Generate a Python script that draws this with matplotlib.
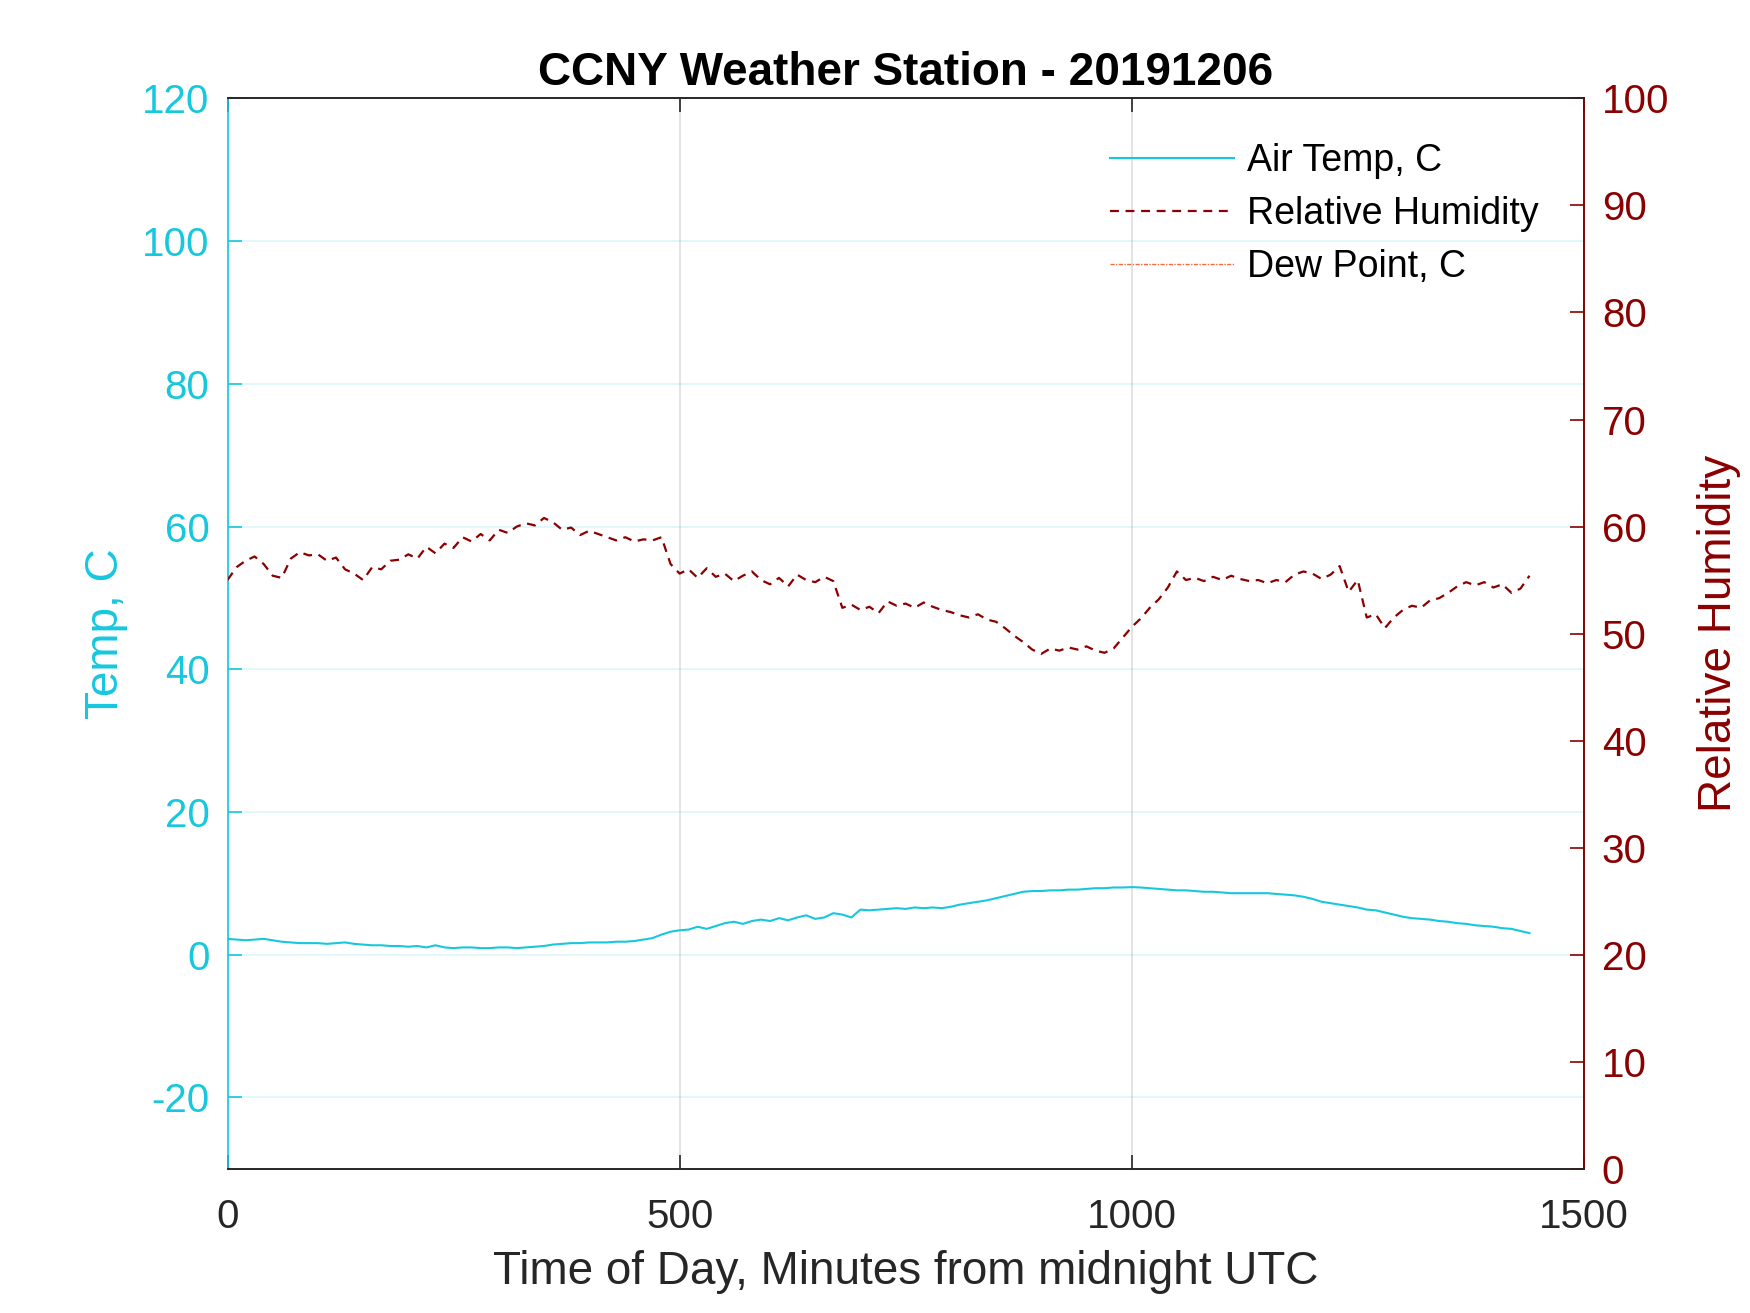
import numpy as np
import matplotlib.pyplot as plt

plt.rcParams['font.family'] = ['Liberation Sans', 'DejaVu Sans']
plt.rcParams['axes.unicode_minus'] = False

# minutes from midnight UTC, one reading every 10 minutes
minutes = list(range(0, 1441, 10))

air_temp = [
    2.2, 2.1, 2.0, 2.1, 2.2, 2.0, 1.8, 1.7, 1.6, 1.6, 1.6, 1.5,
    1.6, 1.7, 1.5, 1.4, 1.3, 1.3, 1.2, 1.2, 1.1, 1.2, 1.0, 1.3,
    1.0, 0.9, 1.0, 1.0, 0.9, 0.9, 1.0, 1.0, 0.9, 1.0, 1.1, 1.2,
    1.4, 1.5, 1.6, 1.6, 1.7, 1.7, 1.7, 1.8, 1.8, 1.9, 2.1, 2.3,
    2.8, 3.2, 3.4, 3.5, 3.9, 3.6, 4.0, 4.4, 4.6, 4.3, 4.7, 4.9,
    4.7, 5.1, 4.8, 5.2, 5.5, 5.0, 5.2, 5.8, 5.6, 5.2, 6.3, 6.2,
    6.3, 6.4, 6.5, 6.4, 6.6, 6.5, 6.6, 6.5, 6.7, 7.0, 7.2, 7.4,
    7.6, 7.9, 8.2, 8.5, 8.8, 8.9, 8.9, 9.0, 9.0, 9.1, 9.1, 9.2,
    9.3, 9.3, 9.4, 9.4, 9.45, 9.4, 9.3, 9.2, 9.1, 9.0, 9.0, 8.9,
    8.8, 8.8, 8.7, 8.6, 8.6, 8.6, 8.6, 8.6, 8.5, 8.4, 8.3, 8.1,
    7.8, 7.4, 7.2, 7.0, 6.8, 6.6, 6.3, 6.2, 5.9, 5.6, 5.3, 5.1,
    5.0, 4.9, 4.7, 4.6, 4.4, 4.3, 4.1, 4.0, 3.9, 3.7, 3.6, 3.3,
    3.0,
]

rel_humidity = [
    55.0, 56.2, 56.8, 57.2, 56.5, 55.4, 55.2, 57.0, 57.6, 57.3, 57.4, 56.8,
    57.1, 56.0, 55.6, 55.0, 56.2, 56.0, 56.8, 56.9, 57.4, 57.0, 58.1, 57.5,
    58.4, 58.0, 59.0, 58.6, 59.3, 58.7, 59.7, 59.4, 60.0, 60.3, 60.1, 60.8,
    60.4, 59.7, 59.9, 59.2, 59.6, 59.3, 59.0, 58.7, 59.0, 58.6, 58.8, 58.7,
    59.0, 56.5, 55.6, 56.0, 55.2, 56.1, 55.3, 55.6, 54.9, 55.4, 55.8, 55.0,
    54.6, 55.2, 54.4, 55.5, 55.0, 54.8, 55.3, 54.9, 52.4, 52.7, 52.2, 52.5,
    51.9, 53.0, 52.6, 52.8, 52.4, 52.9, 52.5, 52.2, 52.0, 51.7, 51.5, 51.8,
    51.3, 51.1, 50.5, 49.8, 49.2, 48.5, 48.1, 48.6, 48.4, 48.7, 48.5, 48.8,
    48.4, 48.2, 48.6, 49.6, 50.6, 51.4, 52.4, 53.2, 54.3, 55.8, 55.0, 55.2,
    54.9, 55.3, 55.0, 55.4, 55.1, 54.9, 55.0, 54.7, 55.0, 54.8, 55.5, 55.8,
    55.6, 55.1, 55.5, 56.3, 53.9, 55.0, 51.5, 51.8, 50.5, 51.5, 52.2, 52.6,
    52.4, 53.1, 53.3, 53.8, 54.4, 54.8, 54.5, 54.8, 54.3, 54.6, 53.8, 54.2,
    55.4,
]

# dew point was sent to the RH axis and falls below 0, so nothing shows
dew_point = []

temp_ticks = [-20, 0, 20, 40, 60, 80, 100, 120]
rh_ticks = list(range(0, 101, 10))
time_ticks = [0, 500, 1000, 1500]

cyan = '#17C7DE'
dark_red = '#8B0000'
dew_color = '#F26B3A'
ink = '#262626'

fig = plt.figure(figsize=(17.5, 13.13), dpi=100)
ax = fig.add_axes([0.13, 0.11, 0.775, 0.815])
ax2 = ax.twinx()

l1, = ax.plot(minutes, air_temp, color=cyan, lw=1.5, label='Air Temp, C')
l2, = ax2.plot(minutes, rel_humidity, color=dark_red, lw=1.6,
               linestyle=(0, (4, 3)), label='Relative Humidity')
l3, = ax2.plot(minutes[:len(dew_point)], dew_point, color=dew_color, lw=1.0,
               linestyle=(0, (3, 1, 1, 1)), label='Dew Point, C')

ax.set_xlim(0, 1500)
ax.set_ylim(-30, 120)
ax2.set_ylim(0, 100)
ax.set_xticks(time_ticks)
ax.set_yticks(temp_ticks)
ax2.set_yticks(rh_ticks)

ax.grid(axis='y', color=cyan, alpha=0.15, lw=1.2)
ax.grid(axis='x', color=ink, alpha=0.15, lw=1.2)

for a in (ax, ax2):
    for s in a.spines.values():
        s.set_linewidth(1.2)
        s.set_color(ink)
ax.spines['left'].set_color(cyan)
ax2.spines['left'].set_visible(False)
ax2.spines['right'].set_color(dark_red)

ax.tick_params(axis='x', direction='in', length=10, width=1.2, top=True,
               labelsize=29, colors=ink, pad=21)
ax.tick_params(axis='y', direction='in', length=10, width=1.2,
               labelsize=29, colors=cyan, pad=13)
ax2.tick_params(axis='y', direction='in', length=10, width=1.2,
                labelsize=29, colors=dark_red, pad=13)

ax.set_xlabel('Time of Day, Minutes from midnight UTC', fontsize=33, color=ink, labelpad=10)
ax.set_ylabel('Temp, C', fontsize=33, color=cyan, labelpad=10)
ax2.set_ylabel('Relative Humidity', fontsize=33, color=dark_red, labelpad=20)
ax.set_title('CCNY Weather Station - 20191206', fontsize=33, fontweight='bold', pad=10)

ax2.legend(handles=[l1, l2, l3], loc='upper right', frameon=False, fontsize=27,
           handlelength=3.3, handletextpad=0.35, labelspacing=0.45,
           borderaxespad=0.8)

fig.savefig('out.png', dpi=100)
